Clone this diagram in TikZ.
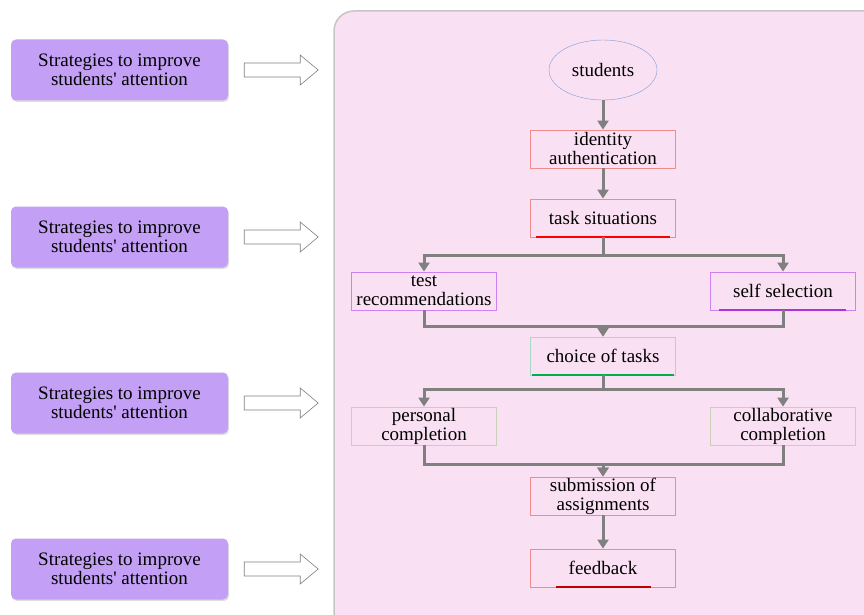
\documentclass[tikz,border=0pt]{standalone}
\usepackage{fontspec}
\setmainfont{Liberation Serif}[Ligatures=TeXOff]
\usetikzlibrary{arrows.meta,shapes.geometric,shadows}

\definecolor{panelpink}{HTML}{FAE0F3}
\definecolor{lavender}{HTML}{C3A0F5}
\definecolor{flowgray}{HTML}{808080}
\definecolor{ellblue}{HTML}{7F9CD6}
\definecolor{boxred}{HTML}{F08C8C}
\definecolor{boxviolet}{HTML}{D080F0}
\definecolor{boxteal}{HTML}{A8D8C8}
\definecolor{boxsage}{HTML}{C8D0B8}
\definecolor{linered}{HTML}{FF0000}
\definecolor{lineviolet}{HTML}{B030E0}
\definecolor{linegreen}{HTML}{00B050}
\definecolor{linedark}{HTML}{C00000}

\tikzset{
  strat/.style={rectangle, rounded corners=5pt, fill=lavender, minimum width=217pt,
    minimum height=61pt, align=center, inner sep=0pt,
    drop shadow={opacity=0.25, shadow xshift=1pt, shadow yshift=-1.5pt}},
  flowbox/.style={rectangle, draw, fill=panelpink, minimum width=145pt, minimum height=38pt,
    align=center, inner sep=0pt, line width=0.8pt},
  flow/.style={draw=flowgray, line width=3pt, -{Triangle[width=11pt,length=9pt]}},
  txt/.style={font=\fontsize{19}{19}\selectfont}
}

\begin{document}
\begin{tikzpicture}[x=1pt,y=-1pt,txt]
  \useasboundingbox (0,0) rectangle (864,615);
  \fill[white] (0,0) rectangle (864,615);
  % panel
  \draw[gray!45, line width=1.5pt, fill=panelpink, rounded corners=20pt] (334,11) rectangle (890,640);

  % left column
  \foreach \i/\y in {1/70,2/237,3/403,4/569}{
    \node[strat] (s\i) at (119.5,\y) {Strategies to improve\\students' attention};
    \draw[gray, fill=white, line width=0.6pt] ([xshift=16pt]s\i.east) ++(0,-7) -- ++(56,0) -- ++(0,-8)
      -- ++(18,15) -- ++(-18,15) -- ++(0,-8) -- ++(-56,0) -- cycle;
  }

  % flow chart
  \node[ellipse, draw=ellblue, fill=panelpink, minimum width=108pt, minimum height=60pt,
    inner sep=0pt] (st) at (603,70) {students};
  \node[flowbox, draw=boxred] (ia) at (603,149) {identity\\authentication};
  \node[flowbox, draw=boxred] (ts) at (603,218) {task situations};
  \node[flowbox, draw=boxviolet] (tr) at (424,291) {test\\recommendations};
  \node[flowbox, draw=boxviolet] (ss) at (783,291) {self selection};
  \node[flowbox, draw=boxteal] (ct) at (603,356) {choice of tasks};
  \node[flowbox, draw=boxsage] (pc) at (424,426) {personal\\completion};
  \node[flowbox, draw=boxsage] (cc) at (783,426) {collaborative\\completion};
  \node[flowbox, draw=boxred] (sa) at (603,496) {submission of\\assignments};
  \node[flowbox, draw=boxred] (fb) at (603,568) {feedback};

  % coloured under-lines
  \draw[linered, line width=1.5pt] ([xshift=6pt,yshift=0.5pt]ts.south west) -- ([xshift=-6pt,yshift=0.5pt]ts.south east);
  \draw[lineviolet, line width=1.5pt] ([xshift=9pt,yshift=0.5pt]ss.south west) -- ([xshift=-10pt,yshift=0.5pt]ss.south east);
  \draw[linegreen, line width=2pt] ([xshift=2pt,yshift=0.5pt]ct.south west) -- ([xshift=-2pt,yshift=0.5pt]ct.south east);
  \draw[linedark, line width=1.5pt] ([xshift=26pt,yshift=0.5pt]fb.south west) -- ([xshift=-25pt,yshift=0.5pt]fb.south east);

  % connectors
  \draw[flow] (st) -- (ia);
  \draw[flow] (ia) -- (ts);
  \draw[flow] (ts.south) -- ++(0,18) -| (tr.north);
  \draw[flow] (ts.south) -- ++(0,18) -| (ss.north);
  \draw[flow] (tr.south) -- ++(0,16) -| (ct.north);
  \draw[flow] (ss.south) -- ++(0,16) -| (ct.north);
  \draw[flow] (ct.south) -- ++(0,14) -| (pc.north);
  \draw[flow] (ct.south) -- ++(0,14) -| (cc.north);
  \draw[flow] (pc.south) -- ++(0,19) -| (sa.north);
  \draw[flow] (cc.south) -- ++(0,19) -| (sa.north);
  \draw[flow] (sa) -- (fb);
\end{tikzpicture}
\end{document}
